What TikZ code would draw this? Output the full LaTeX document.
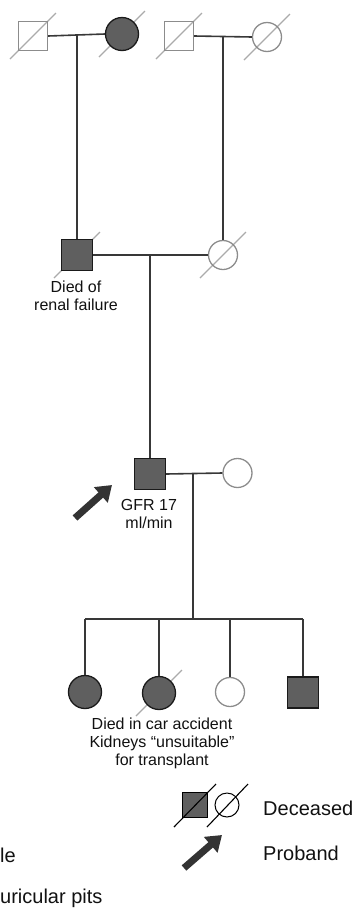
\documentclass[tikz,border=0pt]{standalone}
\usepackage{fontspec}
\setmainfont{Liberation Sans}
\usetikzlibrary{arrows.meta}
\pgfdeclarelayer{bg}
\pgfsetlayers{bg,main}
\definecolor{affc}{HTML}{5F5F5F}
\definecolor{outd}{HTML}{1A1A1A}
\definecolor{outl}{HTML}{8C8C8C}
\definecolor{linec}{HTML}{383838}
\definecolor{slashc}{HTML}{ABABAB}
\definecolor{arrc}{HTML}{333333}
\definecolor{txt}{HTML}{111111}
\tikzset{
  asq/.style={rectangle, inner sep=0pt, minimum size=31pt, draw=outd, fill=affc, line width=1.3pt},
  usq/.style={rectangle, inner sep=0pt, minimum size=29pt, draw=outl, line width=1.3pt},
  acirc/.style={circle, inner sep=0pt, minimum size=33pt, draw=outd, fill=affc, line width=1.3pt},
  ucirc/.style={circle, inner sep=0pt, minimum size=29pt, draw=outl, line width=1.3pt},
  link/.style={draw=linec, line width=1.6pt},
  dslash/.style={draw=slashc, line width=1.1pt},
  lslash/.style={draw=black, line width=1.1pt},
  note/.style={font=\fontsize{16}{18}\selectfont, align=center, inner sep=0pt, text=txt, anchor=north},
  leg/.style={font=\fontsize{20}{22}\selectfont, anchor=base west, inner sep=0pt, text=txt},
  probarrow/.style={draw=arrc, line width=7pt, -{Triangle[length=15pt,width=20pt]}}
}
\begin{document}
\begin{tikzpicture}[x=1pt,y=-1pt]
\useasboundingbox (0,0) rectangle (356,911);
% generation I
\node[usq]   (I1) at (33,36) {};
\node[acirc] (I2) at (122,34) {};
\node[usq]   (I3) at (179,36) {};
\node[ucirc] (I4) at (267,37) {};
% generation II
\node[asq]   (II1) at (77,255) {};
\node[ucirc] (II2) at (223,255) {};
% generation III
\node[asq]   (III1) at (150,474) {};
\node[ucirc] (III2) at (237.5,473) {};
% generation IV
\node[acirc] (IV1) at (85,692) {};
\node[acirc] (IV2) at (159,693) {};
\node[ucirc] (IV3) at (230,692) {};
\node[asq]   (IV4) at (303,692.5) {};
% junction coordinates
\coordinate (m1) at (77,36);
\coordinate (m2) at (223,37);
\coordinate (m3) at (150,254);
\coordinate (m4) at (193,473);
\coordinate (s0) at (193,619);
\coordinate (s1) at (85,619);
\coordinate (s2) at (159,619);
\coordinate (s3) at (230,619);
\coordinate (s4) at (303,619);
% connectors
\draw[link] (I1.east) -- (I2.west);
\draw[link] (m1) -- (II1.north);
\draw[link] (I3.east) -- (I4.west);
\draw[link] (m2) -- (II2.north);
\draw[link] (II1.east) -- (II2.west);
\draw[link] (m3) -- (III1.north);
\draw[link] (III1.east) -- (III2.west);
\draw[link] (m4) -- (s0);
\draw[link] (s1) -- (s4);
\draw[link] (s1) -- (IV1.north);
\draw[link] (s2) -- (IV2.north);
\draw[link] (s3) -- (IV3.north);
\draw[link] (s4) -- (IV4.north);
% deceased slashes
\begin{pgfonlayer}{bg}
\foreach \n in {I1,I2,I3,I4,II1,II2,IV2}{
  \draw[dslash] ([shift={(-23,23)}]\n.center) -- ([shift={(23,-23)}]\n.center);
}
\end{pgfonlayer}
% annotations
\node[note] (t1) at (76,281) {Died of\\renal failure};
\node[note] (t2) at (149,499) {GFR 17\\ml/min};
\node[note] (t3) at (162,718) {Died in car accident\\Kidneys “unsuitable”\\for transplant};
% proband arrow
\coordinate (pa0) at (75,518);
\coordinate (pa1) at (112,485);
\draw[probarrow] (pa0) -- (pa1);
% legend
\node[rectangle, inner sep=0pt, minimum size=25pt, draw=black, fill=affc, line width=1pt] (L1) at (195,805) {};
\node[circle, inner sep=0pt, minimum size=24pt, draw=black, line width=1pt] (L2) at (227,805) {};
\draw[lslash] ([shift={(-21,22)}]L1.center) -- ([shift={(21,-21)}]L1.center);
\draw[lslash] ([shift={(-20,22)}]L2.center) -- ([shift={(21,-21)}]L2.center);
\node[leg] (Ld) at (263,815) {Deceased};
\coordinate (la0) at (184,868);
\coordinate (la1) at (222,835);
\draw[probarrow] (la0) -- (la1);
\node[leg] (Lp) at (263,860) {Proband};
\node[leg] (Lm) at (0,862) {le};
\node[leg] (La) at (0,903) {uricular pits};
\end{tikzpicture}
\end{document}
